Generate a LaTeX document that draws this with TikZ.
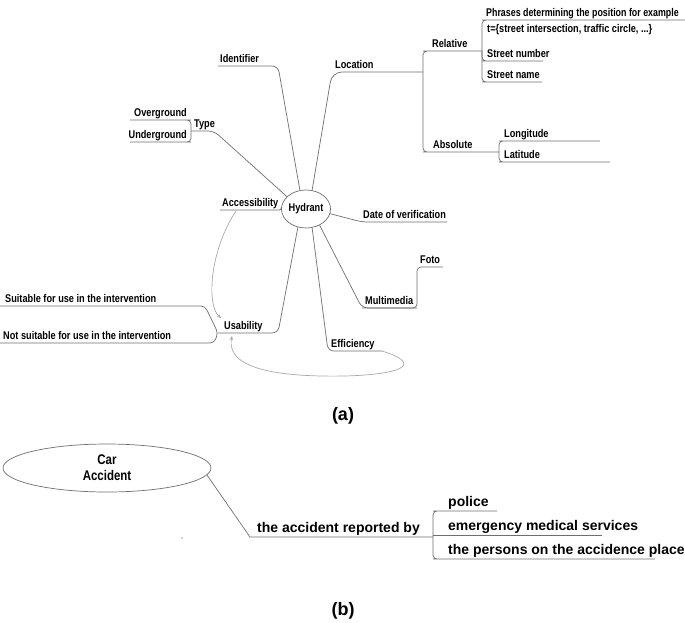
\documentclass[tikz,border=0pt]{standalone}
\usepackage{fontspec}
\setmainfont{Liberation Sans}
\newfontfamily\nar{Liberation Sans}[FakeStretch=0.82]
\usetikzlibrary{shapes.geometric,arrows.meta}
\definecolor{lnc}{HTML}{6E6E6E}
\definecolor{lgc}{HTML}{A8A8A8}
\begin{document}
\begin{tikzpicture}[x=1pt,y=-1pt,
  ln/.style={draw=lnc, line width=0.7pt},
  lab/.style={font=\nar\bfseries\fontsize{11.2}{13}\selectfont, inner sep=0pt, anchor=base west},
  labr/.style={lab, anchor=base east},
  blab/.style={font=\bfseries\fontsize{14}{16}\selectfont, inner sep=0pt, anchor=base west},
  conn/.style={ln, rounded corners=6pt},
  link/.style={draw=lgc, line width=0.7pt, -{Stealth[length=4pt,width=3.5pt]}},
  caption/.style={font=\bfseries\fontsize{18}{20}\selectfont, inner sep=0pt},
]
\useasboundingbox (0,0) rectangle (685,622);

% ---------- (a) ----------
\node[ellipse, draw=lnc, line width=0.7pt, minimum width=42pt, minimum height=38pt, inner sep=0pt,
      font=\nar\bfseries\fontsize{11.2}{13}\selectfont] (hyd) at (306,209) {Hydrant};

% Identifier
\coordinate (idL) at (218,66); \coordinate (idR) at (278,66);
\node[lab] (id) at (220,62) {Identifier};
\draw[conn] (idL) -- (idR) -- (hyd.108);

% Location
\coordinate (locL) at (332,72); \coordinate (locR) at (423,72);
\node[lab] (loc) at (335,68) {Location};
\draw[conn, rounded corners=10pt] (hyd.72) -- (locL) -- (locR);

% Relative / Absolute
\coordinate (relL) at (427,51); \coordinate (relR) at (482,51);
\node[lab] (rel) at (432,47) {Relative};
\coordinate (absL) at (427,152); \coordinate (absR) at (499,152);
\node[lab] (abs) at (433,148) {Absolute};
\draw[conn, rounded corners=4pt] (relR) -- (relL) -- (locR |- relL) -- (locR |- absL) -- (absL) -- (absR);

% Relative children
\coordinate (phL) at (486,20); \coordinate (phR) at (685,20);
\node[lab] (ph) at (486,16) {\scalebox{0.965}[1]{Phrases determining the position for example}};
\node[lab] (ph2) at (487,32) {t=\{street intersection, traffic circle, ...\}};
\coordinate (snL) at (486,61); \coordinate (snR) at (543,61);
\node[lab] (sn) at (487,57) {Street number};
\coordinate (stL) at (486,82); \coordinate (stR) at (542,82);
\node[lab] (st) at (487,78) {Street name};
\draw[conn, rounded corners=4pt] (phR) -- (phL) -- (relR |- phL) -- (relR |- stL) -- (stL) -- (stR);
\draw[conn, rounded corners=4pt] (relR) -- (relR |- snL) -- (snL) -- (snR);

% Absolute children
\coordinate (lonL) at (503,141); \coordinate (lonR) at (600,141);
\node[lab] (lon) at (504,137) {Longitude};
\coordinate (latL) at (503,162); \coordinate (latR) at (610,162);
\node[lab] (lat) at (504,158) {Latitude};
\draw[conn, rounded corners=4pt] (lonR) -- (lonL) -- (absR |- lonL) -- (absR |- latL) -- (latL) -- (latR);

% Type
\coordinate (tyL) at (191,131); \coordinate (tyR) at (214,131);
\node[lab] (ty) at (194,127) {Type};
\draw[conn] (tyL) -- (tyR) -- (hyd.147);
\coordinate (ovL) at (130,120); \coordinate (ovR) at (187,120);
\node[labr] (ov) at (187,116) {Overground};
\coordinate (unL) at (130,142); \coordinate (unR) at (187,142);
\node[labr] (un) at (187,138) {Underground};
\draw[conn, rounded corners=4pt] (ovL) -- (ovR) -- (tyL |- ovR) -- (tyL |- unR) -- (unR) -- (unL);

% Accessibility
\coordinate (acL) at (220,210); \coordinate (acR) at (282,210);
\node[lab] (ac) at (222,206) {Accessibility};
\draw[conn, rounded corners=3pt] (acL) -- (acR) -- (hyd.175);

% Date of verification
\coordinate (daL) at (362,222); \coordinate (daR) at (447,222);
\node[lab] (da) at (363,218) {Date of verification};
\draw[conn] (hyd.349) -- (daL) -- (daR);

% Multimedia / Foto
\coordinate (mmL) at (362,308); \coordinate (mmR) at (417,308);
\node[lab] (mm) at (365,304) {Multimedia};
\coordinate (foL) at (417,267); \coordinate (foR) at (443,267);
\node[lab] (fo) at (420,263) {Foto};
\draw[conn] (hyd.310) -- (mmL) -- (mmR);
\draw[conn, rounded corners=4pt] (mmL) -- (mmR) -- (foL) -- (foR);

% Efficiency
\coordinate (efL) at (328,351); \coordinate (efR) at (382,351);
\node[lab] (ef) at (331,347) {Efficiency};
\draw[conn] (hyd.288) -- (efL) -- (efR);

% Usability
\coordinate (usL) at (218,333); \coordinate (usR) at (278,333);
\node[lab] (us) at (224,329) {Usability};
\draw[conn] (usL) -- (usR) -- (hyd.246);
\coordinate (suL) at (0,306); \coordinate (suR) at (205,306);
\node[lab] (su) at (5,302) {Suitable for use in the intervention};
\coordinate (nsL) at (0,343); \coordinate (nsR) at (214,343);
\node[lab] (ns) at (3,339) {Not suitable for use in the intervention};
\draw[conn, rounded corners=4pt] (suL) -- (suR) -- (usL) -- (nsR) -- (nsL);

% gray links
\coordinate (acM) at (236,211);
\coordinate (usA) at (221,318);
\coordinate (usB) at (232,336);
\draw[link] (acM) .. controls (210,250) and (206,305) .. (usA);
\draw[link] (efR) .. controls (418,362) and (412,374) .. (345,376) .. controls (290,377) and (225,372) .. (usB);

\node[caption] (capa) at (343,416) {(a)};

% ---------- (b) ----------
\node[ellipse, draw=lnc, line width=0.7pt, minimum width=208pt, minimum height=48pt, inner sep=0pt,
      align=center, font=\nar\bfseries\fontsize{14}{16}\selectfont] (car) at (107,468) {Car\\Accident};
\coordinate (rbL) at (250,537); \coordinate (rbR) at (433,537);
\node[blab] (rb) at (257,532) {the accident reported by};
\draw[ln] (car.-4) -- (rbL) -- (rbR);
\coordinate (poL) at (437,511); \coordinate (poR) at (497,511);
\node[blab] (po) at (448,506) {police};
\coordinate (emL) at (437,535); \coordinate (emR) at (602,535);
\node[blab] (em) at (448,530) {emergency medical services};
\coordinate (peL) at (437,559); \coordinate (peR) at (655,559);
\node[blab] (pe) at (448,554) {the persons on the accidence place};
\draw[conn, rounded corners=4pt] (poR) -- (poL) -- (rbR |- poL) -- (rbR |- peL) -- (peL) -- (peR);
\draw[ln] (rbR |- emL) -- (emL) -- (emR);
\fill[lgc] (182,538) circle (0.8);

\node[caption] (capb) at (343,611) {(b)};
\end{tikzpicture}
\end{document}
